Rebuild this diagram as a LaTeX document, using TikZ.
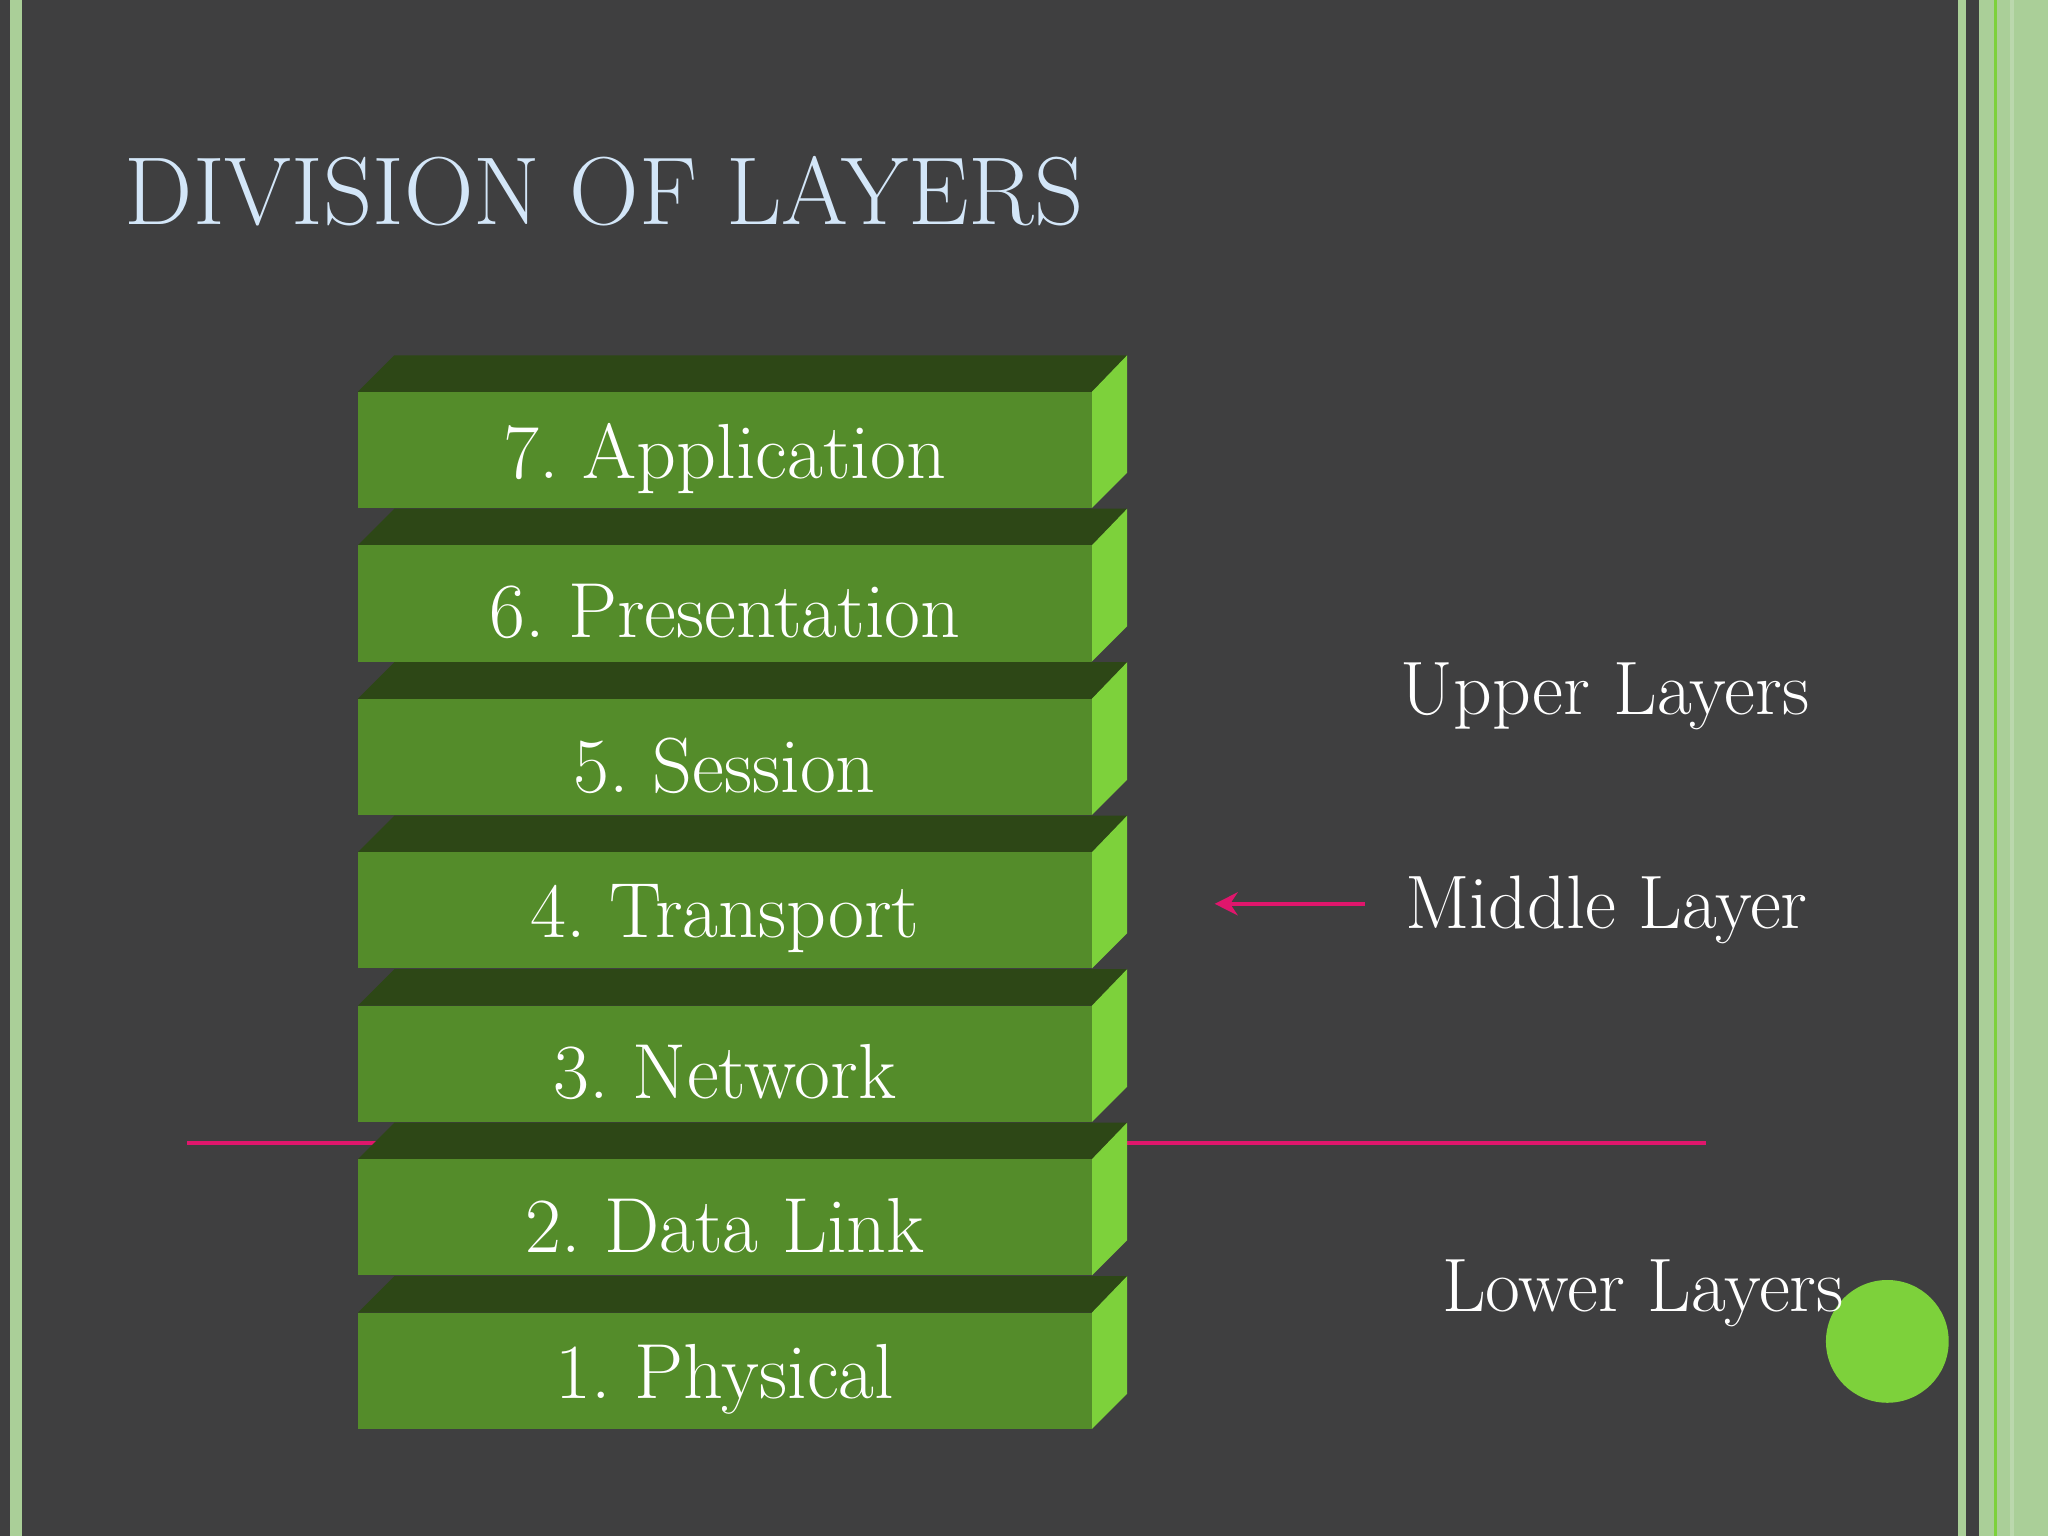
\documentclass[tikz,border=0pt]{standalone}
\usepackage{tikz}
\usetikzlibrary{arrows.meta}
\definecolor{slate}{HTML}{3F3F40}
\definecolor{palegreen}{HTML}{AACF98}
\definecolor{brightgreen}{HTML}{7DD13B}
\definecolor{frontgreen}{HTML}{548C2A}
\definecolor{topgreen}{HTML}{2D4716}
\definecolor{titleblue}{HTML}{D3E6F8}
\definecolor{pinkline}{HTML}{E0166C}
\begin{document}
\begin{tikzpicture}[x=0.01cm,y=-0.01cm,
    layertext/.style={text=white,font=\fontsize{17}{20}\selectfont},
    sidetext/.style={text=white,font=\fontsize{16.5}{19}\selectfont},
    divider/.style={draw=pinkline,line width=0.8pt}]
      \fill [slate] (0,0) rectangle (1568,1176);
      \useasboundingbox (0,0) rectangle (1568,1176);
      \fill [palegreen] (8,0) rectangle (17,1176);
      \fill [palegreen] (1499,0) rectangle (1505,1176);
      \fill [palegreen] (1515,0) rectangle (1568,1176);
      \fill [brightgreen] (1527,0) rectangle (1529,1176);
      \fill [palegreen!80!white] (1539,0) rectangle (1542,1176);
      \fill [brightgreen] (1445,1027) circle (47);
      \node (title) [anchor=base west,text=titleblue,font=\fontsize{21}{24}\selectfont,inner sep=0pt] at (95,172) {DIVISION OF LAYERS};
      % boundary between upper and lower layers
      \coordinate (cutL) at (143,875);
      \coordinate (cutR) at (1306,875);
      \draw [divider] (cutL) -- (cutR);
      % the seven layers, bottom first so upper tops overlap
      \foreach \n/\name [count=\i] in {1/Physical,2/Data Link,3/Network,4/Transport,5/Session,6/Presentation,7/Application} {
        \pgfmathsetmacro{\top}{300+117.5*(7-\i)}
        \fill [topgreen] (274,\top) -- (302,\top-28) -- (863,\top-28) -- (836,\top) -- cycle;
        \fill [brightgreen] (836,\top) -- (863,\top-28) -- (863,\top+62) -- (836,\top+89) -- cycle;
        \fill [frontgreen] (274,\top) rectangle (836,\top+89);
        \node (layer\n) [layertext] at (555,\top+51) {\n.\ \name};
      }
      \node (upper) [sidetext] at (1229,533) {Upper Layers};
      \node (middle) [sidetext] at (1230,697) {Middle Layer};
      \node (lower) [sidetext] at (1258,990) {Lower Layers};
      \coordinate (arrowS) at (1045,692);
      \coordinate (arrowE) at (930,692);
      \draw [pinkline,line width=0.8pt,-{Stealth[length=5pt,width=5pt]}] (arrowS) -- (arrowE);
    \end{tikzpicture}
\end{document}
